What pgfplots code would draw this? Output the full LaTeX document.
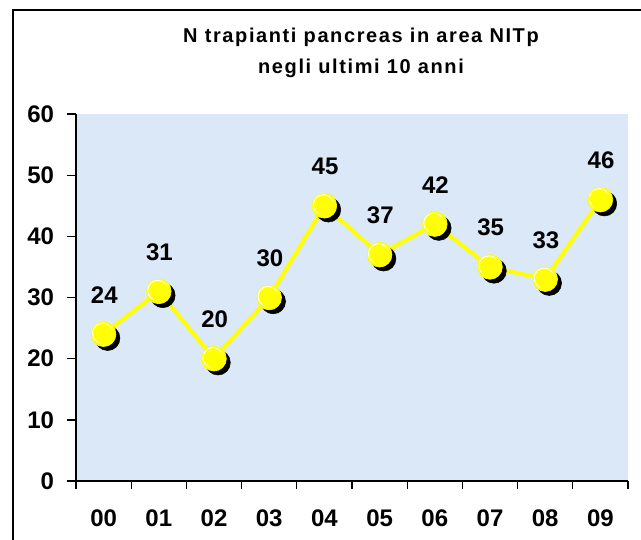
\documentclass[border=0pt]{standalone}
\usepackage{fontspec}
\setmainfont{Liberation Sans}
\newfontfamily\titlefont[LetterSpace=8]{Liberation Sans}
\usepackage{pgfplots}
\pgfplotsset{compat=1.18}
\definecolor{bgblue}{RGB}{218,232,248}
\definecolor{myyellow}{RGB}{255,255,0}
\begin{document}
\begin{tikzpicture}
\path[use as bounding box] (0,0) rectangle (480.75pt,404.25pt);
\fill[white] (0,0) rectangle (480.75pt,404.25pt);
\draw[line width=1.7pt, black] (9.75pt,-5pt) -- (9.75pt,396.75pt) -- (490pt,396.75pt);
\node[font=\titlefont\bfseries\fontsize{15}{17}\selectfont] at (270.75pt,376.5pt) {N trapianti pancreas in area NITp};
\node[font=\titlefont\bfseries\fontsize{15}{17}\selectfont] at (270.75pt,353pt) {negli ultimi 10 anni};
\begin{axis}[
  at={(57pt,43.5pt)}, anchor=south west,
  scale only axis, width=414pt, height=275.25pt,
  xmin=-0.5, xmax=9.5, ymin=0, ymax=60,
  axis x line=bottom, axis y line=left,
  axis line style={-, line width=1pt, black},
  axis background/.style={fill=bgblue},
  xtick={0,...,9},
  xticklabels={00,01,02,03,04,05,06,07,08,09},
  minor xtick={-0.5,0.5,...,9.5},
  ytick={0,10,...,60},
  yticklabels={0,10,20,30,40,50,60},
  tick align=outside,
  major tick length=7pt,
  minor tick length=6pt,
  major x tick style={draw=none},
  tick style={line width=1pt, black},
  minor tick style={line width=1pt, black},
  ticklabel style={font=\bfseries\fontsize{18}{18}\selectfont},
  xticklabel style={yshift=-11pt},
  yticklabel style={xshift=-6pt},
  /pgf/number format/assume math mode=true,
  clip=false,
]
\addplot[black, only marks, mark=*, mark size=9.25pt,
  mark options={fill=black, draw=black},
  every mark/.append style={xshift=3pt,yshift=-3pt}]
  coordinates {(0,24)(1,31)(2,20)(3,30)(4,45)(5,37)(6,42)(7,35)(8,33)(9,46)};
\addplot[myyellow, line width=3pt, mark=*, mark size=9.25pt,
  mark options={fill=myyellow, draw=myyellow, line width=0.5pt}]
  coordinates {(0,24)(1,31)(2,20)(3,30)(4,45)(5,37)(6,42)(7,35)(8,33)(9,46)};
\addplot[white, only marks, mark=o, mark size=7.5pt,
  mark options={draw=white, line width=0.7pt},
  every mark/.append style={xshift=-0.8pt,yshift=0.8pt}]
  coordinates {(0,24)(1,31)(2,20)(3,30)(4,45)(5,37)(6,42)(7,35)(8,33)(9,46)};
\addplot[myyellow, only marks, mark=*, mark size=7pt,
  mark options={fill=myyellow, draw=myyellow, line width=0.1pt},
  every mark/.append style={xshift=0.5pt,yshift=-0.5pt},
  nodes near coords,
  every node near coord/.append style={font=\bfseries\fontsize{18}{18}\selectfont, text=black, anchor=center, yshift=30pt}]
  coordinates {(0,24)(1,31)(2,20)(3,30)(4,45)(5,37)(6,42)(7,35)(8,33)(9,46)};
\end{axis}
\end{tikzpicture}
\end{document}
